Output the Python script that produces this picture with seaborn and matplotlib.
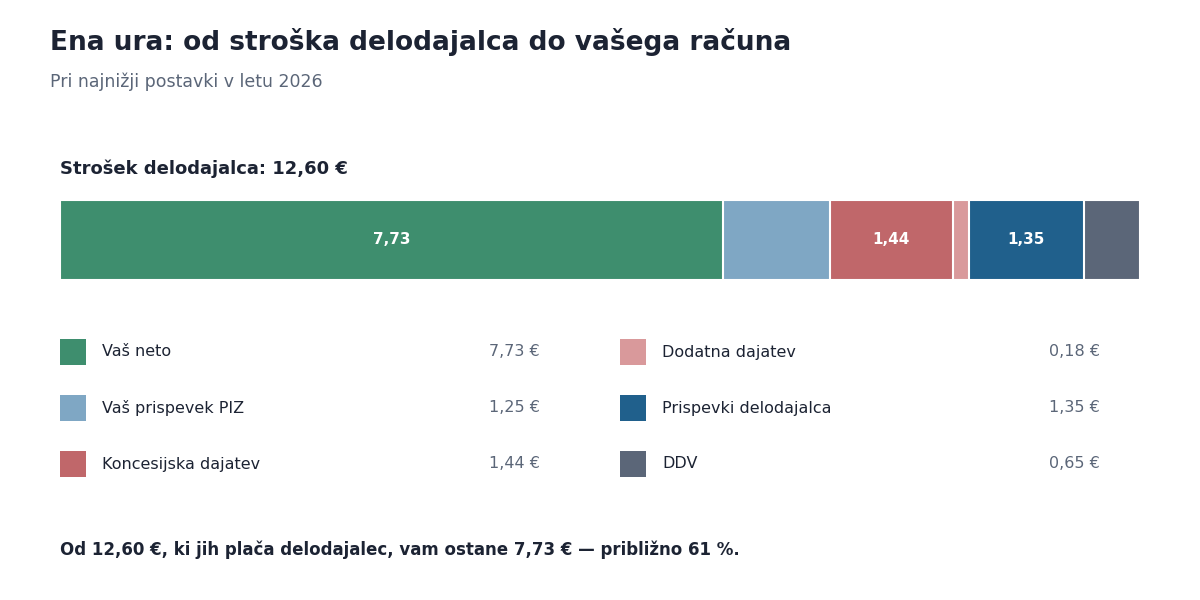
import numpy as np
import matplotlib
matplotlib.use("Agg")
import matplotlib.pyplot as plt
import matplotlib.patches as mpatches
import seaborn as sns

# data
categories = ["Vaš neto", "Vaš prispevek PIZ", "Koncesijska dajatev",
              "Dodatna dajatev", "Prispevki delodajalca", "DDV"]
values = [7.73, 1.25, 1.44, 0.18, 1.35, 0.65]
bar_labels = ["7,73", "", "1,44", "", "1,35", ""]
value_labels = ["7,73 €", "1,25 €", "1,44 €", "0,18 €", "1,35 €", "0,65 €"]
colors = ["#3e8e6e", "#7fa7c4", "#c0676a", "#d9999b", "#20608c", "#5b6678"]
total = 12.60

DARK = "#1c2333"
GREY = "#5b6678"

sns.set_theme(style="white")
plt.rcParams["font.family"] = ["DejaVu Sans"]

fig = plt.figure(figsize=(12, 6), dpi=100)
fig.patch.set_facecolor("white")


def px(x, y):
    return x / 1200, 1 - y / 600


fig.text(*px(50, 42), "Ena ura: od stroška delodajalca do vašega računa",
         fontsize=19, fontweight="bold", color=DARK, va="center", ha="left")
fig.text(*px(50, 82), "Pri najnižji postavki v letu 2026",
         fontsize=12.5, color=GREY, va="center", ha="left")
fig.text(*px(60, 169), "Strošek delodajalca: 12,60 €",
         fontsize=13, fontweight="bold", color=DARK, va="center", ha="left")

# stacked bar: draw cumulative totals from the longest down
ax = fig.add_axes([60 / 1200, 1 - 280 / 600, 1080 / 1200, 80 / 600])
cum = np.cumsum(values)
for i in range(len(values) - 1, -1, -1):
    sns.barplot(x=[cum[i]], y=["cost"], color=colors[i], orient="h",
                width=1.0, edgecolor="white", linewidth=1.5, saturation=1, ax=ax)
ax.set_xlim(0, total)
ax.set_ylim(0.5, -0.5)
ax.axis("off")
starts = cum - np.array(values)
for s, v, lab in zip(starts, values, bar_labels):
    if lab:
        ax.text(s + v / 2, 0, lab, ha="center", va="center",
                color="white", fontsize=11, fontweight="bold")

# legend
for i, (cat, val, c) in enumerate(zip(categories, value_labels, colors)):
    col, row = divmod(i, 3)
    x0 = 60 + col * 560
    y0 = 352 + row * 56
    sq = mpatches.Rectangle(px(x0, y0 + 13), 26 / 1200, 26 / 600,
                            transform=fig.transFigure, facecolor=c,
                            edgecolor="none")
    fig.patches.append(sq)
    fig.text(*px(x0 + 42, y0), cat, fontsize=11.5, color=DARK,
             va="center", ha="left")
    fig.text(*px(x0 + 480, y0), val, fontsize=11.5, color=GREY,
             va="center", ha="right")

fig.text(*px(60, 550),
         "Od 12,60 €, ki jih plača delodajalec, vam ostane 7,73 € — približno 61 %.",
         fontsize=12, fontweight="bold", color=DARK, va="center", ha="left")

fig.savefig("out.png", dpi=100, facecolor="white")
